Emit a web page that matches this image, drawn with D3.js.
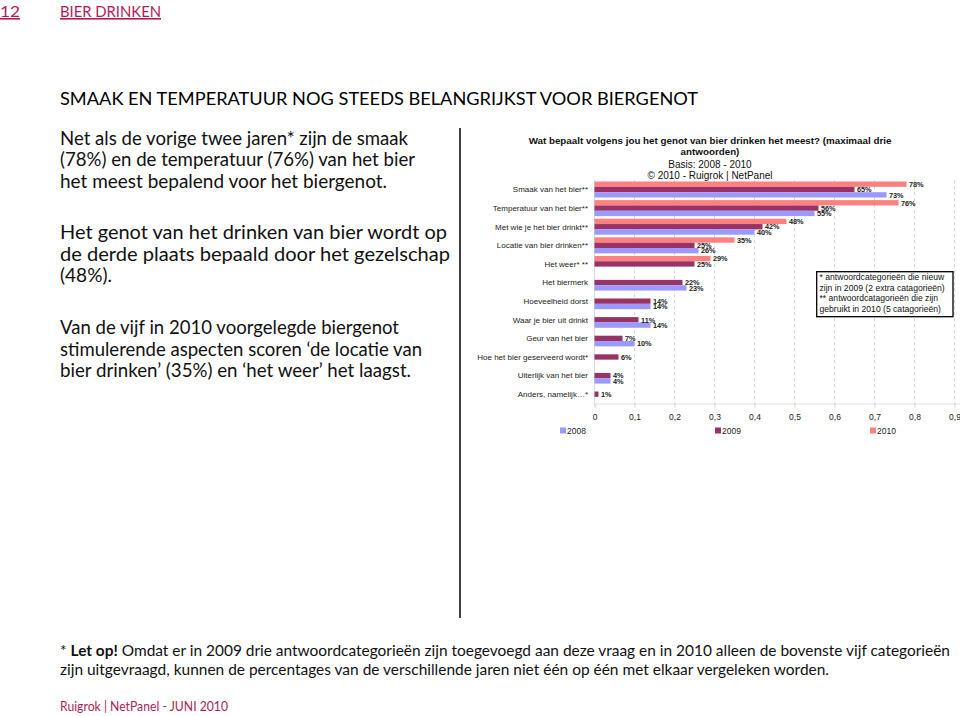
<!DOCTYPE html>
<html><head><meta charset="utf-8">
<script src="https://cdn.jsdelivr.net/npm/d3@7"></script>
<style>body{margin:0;background:#fff}svg{display:block}</style>
</head><body>
<svg id="c" width="960" height="716"></svg>
<script>
const categories = ["Smaak van het bier**","Temperatuur van het bier**","Met wie je het bier drinkt**","Locatie van bier drinken**","Het weer* **","Het biermerk","Hoeveelheid dorst","Waar je bier uit drinkt","Geur van het bier","Hoe het bier geserveerd wordt*","Uiterlijk van het bier","Anders, namelijk…*"];
const values2010 = [0.78,0.76,0.48,0.35,0.29,null,null,null,null,null,null,null];
const values2009 = [0.65,0.56,0.42,0.25,0.25,0.22,0.14,0.11,0.07,0.06,0.04,0.01];
const values2008 = [0.73,0.55,0.40,0.26,null,0.23,0.14,0.14,0.10,null,0.04,null];
const seriesNames = ["2010","2009","2008"];
const legendOrder = ["2008","2009","2010"];
const tickValues = [0,0.1,0.2,0.3,0.4,0.5,0.6,0.7,0.8,0.9];
const tickLabels = ["0","0,1","0,2","0,3","0,4","0,5","0,6","0,7","0,8","0,9"];
const colors = {"2010":"#ff8080","2009":"#993366","2008":"#9999ff"};

const crimson = "#b01c57";
const svg = d3.select("#c");
const sans = "'Liberation Sans', Arial, sans-serif";
const body = "Lato, 'Open Sans', sans-serif";

function line(txt, x, y, opts={}) {
  const t = svg.append("text").attr("x",x).attr("y",y)
    .attr("font-family",opts.family||body).attr("font-size",opts.size||16)
    .attr("fill",opts.fill||"#111").attr("font-weight",opts.weight||"normal")
    .attr("text-anchor",opts.anchor||"start").text(txt);
  if (opts.width) t.attr("textLength",opts.width).attr("lengthAdjust","spacingAndGlyphs");
  if (opts.deco) t.attr("text-decoration",opts.deco);
  return t;
}

// header
line("12", 0, 17, {size:16, fill:crimson, deco:"underline", width:20});
line("BIER DRINKEN", 60, 17, {size:16, fill:crimson, deco:"underline", width:101});
line("SMAAK EN TEMPERATUUR NOG STEEDS BELANGRIJKST VOOR BIERGENOT", 60, 105, {size:18, fill:"#000", width:638});

const paras = [
  [["Net als de vorige twee jaren* zijn de smaak",145,348],["(78%) en de temperatuur (76%) van het bier",166,355],["het meest bepalend voor het biergenot.",188,327]],
  [["Het genot van het drinken van bier wordt op",239,387],["de derde plaats bepaald door het gezelschap",261,390],["(48%).",282,52]],
  [["Van de vijf in 2010 voorgelegde biergenot",334,339],["stimulerende aspecten scoren ‘de locatie van",356,362],["bier drinken’ (35%) en ‘het weer’ het laagst.",377,351]]
];
paras.forEach(p=>p.forEach(([t,y,w])=>line(t,60,y,{size:18.5,fill:"#111",width:w})));

// separator
svg.append("line").attr("x1",460).attr("x2",460).attr("y1",128).attr("y2",618).attr("stroke","#000").attr("stroke-width",1.5);

// footer
const f1 = svg.append("text").attr("x",60).attr("y",656).attr("font-family",body).attr("font-size",15).attr("fill","#111")
  .attr("textLength",890).attr("lengthAdjust","spacingAndGlyphs");
f1.append("tspan").text("* ");
f1.append("tspan").attr("font-weight","bold").text("Let op!");
f1.append("tspan").text(" Omdat er in 2009 drie antwoordcategorieën zijn toegevoegd aan deze vraag en in 2010 alleen de bovenste vijf categorieën");
line("zijn uitgevraagd, kunnen de percentages van de verschillende jaren niet één op één met elkaar vergeleken worden.", 60, 675, {size:15, fill:"#111", width:769});
line("Ruigrok | NetPanel - JUNI 2010", 60, 711, {size:13.5, fill:crimson, width:168});

// chart titles
line("Wat bepaalt volgens jou het genot van bier drinken het meest? (maximaal drie", 710, 143.5, {family:sans,size:9.8,weight:"bold",anchor:"middle",fill:"#111"});
line("antwoorden)", 710, 154.5, {family:sans,size:9.8,weight:"bold",anchor:"middle",fill:"#111"});
line("Basis: 2008 - 2010", 710, 167.5, {family:sans,size:10,anchor:"middle",fill:"#111"});
line("©  2010 - Ruigrok | NetPanel", 710, 179, {family:sans,size:10,anchor:"middle",fill:"#111"});

// scales
const x = d3.scaleLinear().domain([0,1]).range([594.5,994.5]);
const y = d3.scaleBand().domain(categories).range([180.2,403.5]).paddingInner(0.14).paddingOuter(0.07);
const ySub = d3.scaleBand().domain(seriesNames).range([0,y.bandwidth()]);
const plotTop = 180.2, plotBottom = 403.5;

// gridlines
const g = svg.append("g");
g.selectAll("line.grid").data(tickValues.slice(1)).join("line")
  .attr("x1",d=>x(d)).attr("x2",d=>x(d)).attr("y1",plotTop).attr("y2",plotBottom)
  .attr("stroke","#c8c8c8").attr("stroke-width",0.8).attr("stroke-dasharray","3,3");
g.append("line").attr("x1",x(0)).attr("x2",x(0)).attr("y1",plotTop).attr("y2",plotBottom).attr("stroke","#d0d0d0").attr("stroke-width",0.8);

// x axis
const xAxis = d3.axisBottom(x).tickValues(tickValues).tickFormat((d,i)=>tickLabels[i]).tickSize(4).tickPadding(6);
const ax = svg.append("g").attr("transform",`translate(0,${plotBottom})`).call(xAxis);
ax.select(".domain").attr("stroke","#e0e0e0");
ax.selectAll(".tick line").attr("stroke","#d0d0d0");
ax.selectAll(".tick text").attr("font-family",sans).attr("font-size",8.5).attr("fill","#222");

// category labels
svg.append("g").selectAll("text").data(categories).join("text")
  .attr("x",588).attr("y",d=>y(d)+y.bandwidth()/2).attr("dy","0.35em")
  .attr("text-anchor","end").attr("font-family",sans).attr("font-size",8).attr("fill","#222").text(d=>d);

// bars
const data = [];
categories.forEach((c,i)=>{
  [["2010",values2010],["2009",values2009],["2008",values2008]].forEach(([s,arr])=>{
    if (arr[i]!=null) data.push({c,s,v:arr[i]});
  });
});
svg.append("g").selectAll("rect").data(data).join("rect")
  .attr("x",x(0)).attr("y",d=>y(d.c)+ySub(d.s)).attr("width",d=>x(d.v)-x(0)).attr("height",ySub.bandwidth())
  .attr("fill",d=>colors[d.s]);
svg.append("g").selectAll("text").data(data).join("text")
  .attr("x",d=>x(d.v)+2.5).attr("y",d=>y(d.c)+ySub(d.s)+ySub.bandwidth()/2).attr("dy","0.38em")
  .attr("font-family",sans).attr("font-size",7.3).attr("font-weight","bold").attr("fill","#222")
  .text(d=>Math.round(d.v*100)+"%");

// legend
const legX = {"2008":560,"2009":715,"2010":870};
const lg = svg.append("g");
legendOrder.forEach(s=>{
  lg.append("rect").attr("x",legX[s]).attr("y",427.5).attr("width",6).attr("height",6).attr("fill",colors[s]);
  lg.append("text").attr("x",legX[s]+7).attr("y",434).attr("font-family",sans).attr("font-size",8.5).attr("fill","#222").text(s);
});

// note box
svg.append("rect").attr("x",816.7).attr("y",271.7).attr("width",136.3).attr("height",45).attr("fill","#fff").attr("stroke","#000").attr("stroke-width",1.3);
const notes = ["* antwoordcategorieën die nieuw","zijn in 2009 (2 extra catagorieën)","** antwoordcatagorieën die zijn","gebruikt in 2010 (5 catagorieën)"];
notes.forEach((t,i)=>line(t,819.5,280+i*10.5,{family:sans,size:8.6,fill:"#111"}));
</script>
</body></html>
